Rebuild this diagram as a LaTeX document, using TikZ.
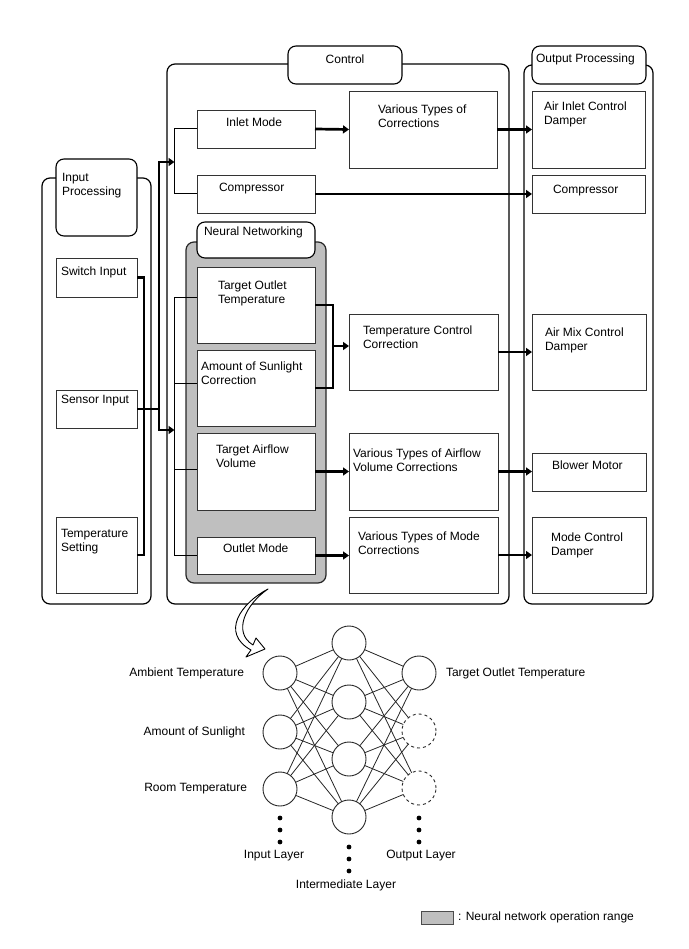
\documentclass[tikz,border=0pt]{standalone}
\usepackage{fontspec}
\setmainfont{Liberation Sans}
\usetikzlibrary{arrows.meta,calc}
\newcommand\mybox[5]{\node[box, anchor=north west, minimum width=#4pt, minimum height=#5pt] (#1) at (#2,#3) {};}
\begin{document}
\begin{tikzpicture}[x=1pt,y=-1pt,
  every node/.style={font=\fontsize{12}{14}\selectfont, inner sep=0pt, outer sep=0pt},
  box/.style={draw=black!80, line width=0.9pt, fill=white},
  cont/.style={draw=black, line width=1.2pt, rounded corners=8pt},
  tabbox/.style={draw=black, line width=1.1pt, rounded corners=8pt, fill=white},
  txt/.style={anchor=north west, align=left},
  thickline/.style={line width=2.7pt},
  arr/.style={line width=2.7pt, -{Triangle[length=6pt,width=8pt]}},
  thinline/.style={line width=1pt},
  neuron/.style={circle, draw=black!85, line width=0.9pt, minimum size=34pt, fill=white},
  nnline/.style={line width=0.8pt, draw=black!85},
]
\useasboundingbox (0,0) rectangle (688,949);

% containers
\node[cont, anchor=north west, minimum width=109pt, minimum height=426pt] (inpc) at (42,178) {};
\node[cont, anchor=north west, minimum width=342pt, minimum height=540pt] (ctlc) at (167,64) {};
\node[cont, anchor=north west, minimum width=129pt, minimum height=539pt] (outc) at (524,65) {};
\node[cont, anchor=north west, minimum width=140pt, minimum height=341pt, fill=black!25, draw=black!85] (nnc) at (186,242) {};

% tabs
\node[tabbox, anchor=north west, minimum width=81pt, minimum height=77pt] (inpt) at (56,159) {};
\node[tabbox, anchor=north west, minimum width=114pt, minimum height=38pt] (ctlt) at (288,46) {};
\node[tabbox, anchor=north west, minimum width=114pt, minimum height=38pt] (outt) at (532,46) {};
\node[tabbox, anchor=north west, minimum width=118pt, minimum height=36pt] (nnt) at (197,222) {};

\node[txt] (inptx) at (62,173) {Input\\Processing};
\node[anchor=north] (ctltx) at (345,55) {Control};
\node[txt] (outtx) at (536,54) {Output Processing};
\node[txt] (nntx) at (204,227) {Neural Networking};

% boxes
\mybox{sw}{56}{258}{81}{39}
\mybox{sn}{56}{390}{81}{38}
\mybox{ts}{56}{517}{81}{76}
\mybox{im}{197}{110}{118}{38}
\mybox{cp}{197}{175}{118}{38}
\mybox{vc}{349}{91}{148}{77}
\mybox{ai}{532}{91}{113}{77}
\mybox{co}{532}{175}{113}{38}
\mybox{tot}{197}{267}{118}{76}
\mybox{sun}{197}{350}{118}{76}
\mybox{taf}{197}{433}{118}{77}
\mybox{om}{197}{537}{118}{37}
\mybox{tcc}{349}{314}{149}{76}
\mybox{amd}{532}{314}{114}{76}
\mybox{vav}{349}{433}{149}{77}
\mybox{bm}{532}{453}{114}{38}
\mybox{vmc}{349}{517}{149}{76}
\mybox{mcd}{532}{517}{114}{76}

% box texts
\node[txt] (swx) at (61,267) {Switch Input};
\node[txt] (snx) at (61,395) {Sensor Input};
\node[txt] (tsx) at (61,529) {Temperature\\Setting};
\node[txt] (imx) at (226,118) {Inlet Mode};
\node[txt] (cpx) at (219,183) {Compressor};
\node[txt] (vcx) at (378,105) {Various Types of\\Corrections};
\node[txt] (aix) at (544,102) {Air Inlet Control\\Damper};
\node[txt] (cox) at (553,185) {Compressor};
\node[txt] (totx) at (218,281) {Target Outlet\\Temperature};
\node[txt] (sunx) at (201,362) {Amount of Sunlight\\Correction};
\node[txt] (tafx) at (216,445) {Target Airflow\\Volume};
\node[txt] (omx) at (223,544) {Outlet Mode};
\node[txt] (tccx) at (363,326) {Temperature Control\\Correction};
\node[txt] (amdx) at (545,328) {Air Mix Control\\Damper};
\node[txt] (vavx) at (353,449) {Various Types of Airflow\\Volume Corrections};
\node[txt] (bmx) at (552,461) {Blower Motor};
\node[txt] (vmcx) at (358,532) {Various Types of Mode\\Corrections};
\node[txt] (mcdx) at (551,533) {Mode Control\\Damper};

% helper coordinates
\coordinate (ibx) at (144,0);
\coordinate (cbx) at (159,0);
\coordinate (tb) at (174.5,0);
\coordinate (cbt) at (159,162);
\coordinate (cbb) at (159,430);
\coordinate (y1) at (0,297);
\coordinate (y2) at (0,383);
\coordinate (y3) at (0,469);
\coordinate (mx) at (333,0);
\coordinate (ty) at (0,346);

% input side connectors
\draw[thickline] (sw.east) -- (sw.east -| ibx) -- (ts.east -| ibx) -- (ts.east);
\draw[thickline] (sn.east) -- (sn.east -| cbx);
\draw[arr] (sn.east -| cbx) -- (cbt) -- (tb |- cbt);
\draw[arr] (sn.east -| cbx) -- (cbb) -- (tb |- cbb);
\draw[thinline] (im.west) -- (im.west -| tb) -- (cp.west -| tb) -- (cp.west);
\draw[thinline] (tot.west |- y1) -- (tb |- y1) -- (tb |- om.west) -- (om.west);
\draw[thinline] (sun.west |- y2) -- (tb |- y2);
\draw[thinline] (taf.west |- y3) -- (tb |- y3);

% right side connectors
\draw[arr] (im.east) -- (vc.west);
\draw[arr] (vc.east) -- (vc.east -| ai.west);
\draw[arr] (cp.east) -- (co.west);
\draw[thickline] (tot.east) -- (tot.east -| mx) -- (sun.east -| mx) -- (sun.east);
\draw[arr] (mx |- ty) -- (tcc.west |- ty);
\draw[arr] (tcc.east) -- (amd.west);
\draw[arr] (taf.east) -- (taf.east -| vav.west);
\draw[arr] (vav.east) -- (vav.east -| bm.west);
\draw[arr] (om.east) -- (om.east -| vmc.west);
\draw[arr] (vmc.east) -- (vmc.east -| mcd.west);

% curved hollow arrow
\draw[line width=0.9pt, fill=white, line join=round]
  (268,589) .. controls (241,603) and (220,633) .. (251,650)
  -- (246,657) -- (265,649) -- (256,638) -- (253,645)
  .. controls (232,632) and (246,604) .. (268,589) -- cycle;

% neural network
\node[neuron] (i1) at (280,673) {};
\node[neuron] (i2) at (280,732) {};
\node[neuron] (i3) at (280,789) {};
\node[neuron] (h1) at (349,643) {};
\node[neuron] (h2) at (349,702) {};
\node[neuron] (h3) at (349,759) {};
\node[neuron] (h4) at (349,817) {};
\node[neuron] (o1) at (419,673) {};
\node[neuron, dashed] (o2) at (419,731) {};
\node[neuron, dashed] (o3) at (419,788) {};
\foreach \a in {i1,i2,i3}{\foreach \b in {h1,h2,h3,h4}{\draw[nnline] (\a) -- (\b);}}
\foreach \a in {h1,h2,h3,h4}{\foreach \b in {o1,o2,o3}{\draw[nnline] (\a) -- (\b);}}

\foreach \y in {818,830,842}{\fill (280,\y) circle (2.4pt); \fill (419,\y) circle (2.4pt);}
\foreach \y in {847,859,871}{\fill (349,\y) circle (2.4pt);}

\node[anchor=east] (lamb) at (244,673) {Ambient Temperature};
\node[anchor=east] (lsun) at (245,732) {Amount of Sunlight};
\node[anchor=east] (lroom) at (247,789) {Room Temperature};
\node[anchor=west] (ltot) at (446,673) {Target Outlet Temperature};
\node (lin) at (274,856) {Input Layer};
\node (lmid) at (346,885) {Intermediate Layer};
\node (lout) at (421,856) {Output Layer};

% legend
\node[draw=black!70, line width=0.8pt, fill=black!25, anchor=north west, minimum width=32pt, minimum height=13pt] (leg) at (421,911) {};
\node[anchor=west] (legt) at (458,917.5) {: Neural network operation range};
\end{tikzpicture}
\end{document}
